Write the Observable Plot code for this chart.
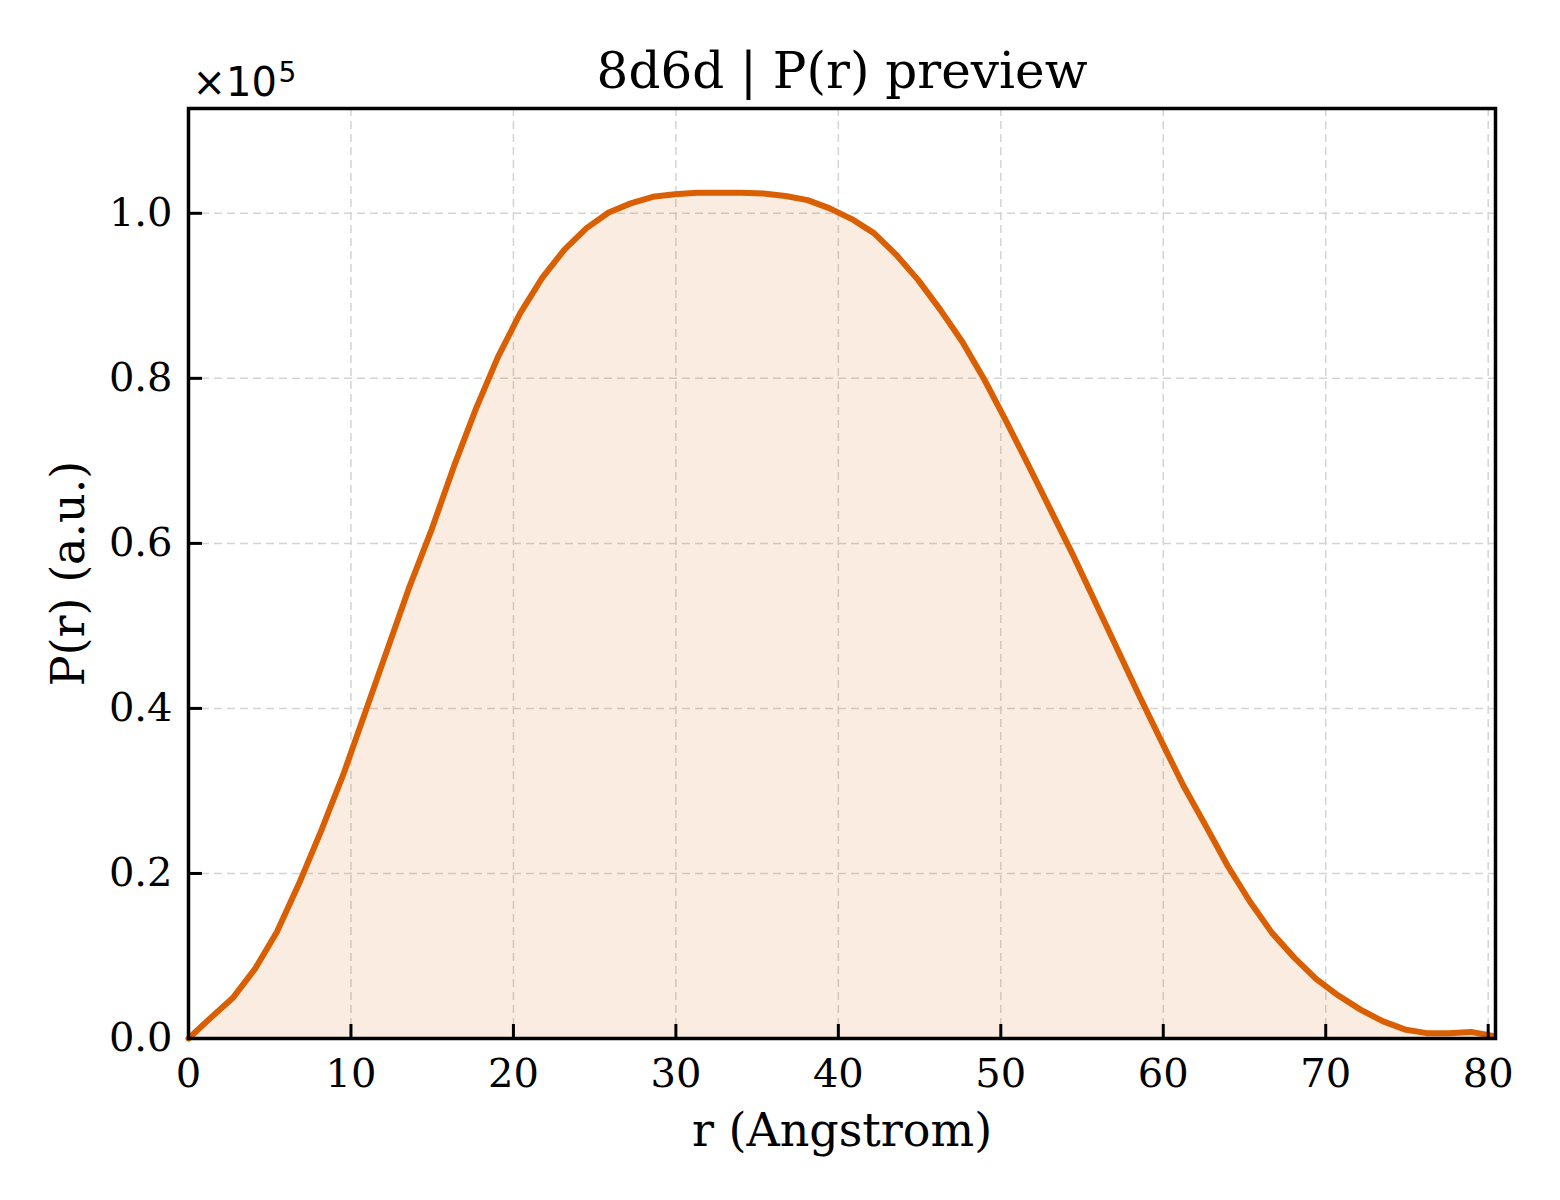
<!DOCTYPE html>
<html>
<head>
<meta charset="utf-8">
<script src="https://cdn.jsdelivr.net/npm/d3@7"></script>
<script src="https://cdn.jsdelivr.net/npm/@observablehq/plot@0.6"></script>
<style>
  html, body { margin: 0; padding: 0; background: #ffffff; }
  #chart svg { display: block; }
</style>
</head>
<body>
<div id="chart"></div>
<script>
// ---- Text ----
const titleText = "8d6d | P(r) preview";
const xLabel = "r (Angstrom)";
const yLabel = "P(r) (a.u.)";
const offsetBase = "×10";
const offsetExp = "5";

// ---- Data ----
const rValues = [
  0.00, 1.36, 2.72, 4.08, 5.44, 6.81, 8.17, 9.53, 10.89, 12.25,
  13.61, 14.97, 16.33, 17.69, 19.05, 20.42, 21.78, 23.14, 24.50, 25.86,
  27.22, 28.58, 29.94, 31.30, 32.67, 34.03, 35.39, 36.75, 38.11, 39.47,
  40.83, 42.19, 43.55, 44.92, 46.28, 47.64, 49.00, 50.36, 51.72, 53.08,
  54.44, 55.81, 57.17, 58.53, 59.89, 61.25, 62.61, 63.97, 65.33, 66.69,
  68.06, 69.42, 70.78, 72.14, 73.50, 74.86, 76.22, 77.58, 78.94, 80.30
];
const pValues = [
  0, 2500, 4900, 8400, 12900, 18800, 25200, 32000, 39600, 47200,
  54800, 61700, 69300, 76300, 82600, 87900, 92200, 95600, 98200, 100100,
  101200, 102000, 102300, 102500, 102500, 102500, 102400, 102100, 101600, 100600,
  99300, 97600, 95000, 91900, 88300, 84400, 79800, 74700, 69400, 64000,
  58600, 52900, 47200, 41500, 36000, 30600, 25800, 20900, 16600, 12800,
  9800, 7200, 5200, 3500, 2100, 1100, 650, 640, 800, 300
];
const xTicks = [0, 10, 20, 30, 40, 50, 60, 70, 80];
const yTicks = [0, 20000, 40000, 60000, 80000, 100000];

const data = rValues.map((r, i) => ({ r, p: pValues[i] }));

// ---- Layout ----
const W = 1560, H = 1200;
const mL = 188, mR = 65, mT = 108, mB = 162;
const frameW = W - mL - mR, frameH = H - mT - mB;
const lineColor = "#d95f02";
const gridColor = "#d4d4d4";

const chart = Plot.plot({
  width: W,
  height: H,
  marginLeft: mL,
  marginRight: mR,
  marginTop: mT,
  marginBottom: mB,
  style: { fontFamily: "'DejaVu Serif', serif", fontSize: "40px", background: "#ffffff", color: "#000000" },
  x: { domain: [0, 80.45] },
  y: { domain: [0, 112700] },
  marks: [
    Plot.ruleX(xTicks, { x: d => d, stroke: gridColor, strokeWidth: 1.5, strokeDasharray: "8,5" }),
    Plot.ruleY(yTicks, { y: d => d, stroke: gridColor, strokeWidth: 1.5, strokeDasharray: "8,5" }),
    Plot.areaY(data, { x: "r", y: "p", fill: lineColor, fillOpacity: 0.12 }),
    Plot.lineY(data, { x: "r", y: "p", stroke: lineColor, strokeWidth: 6, strokeLinejoin: "round" }),
    Plot.tickX(xTicks, { x: d => d, stroke: "#000", strokeWidth: 3, insetTop: frameH - 14 }),
    Plot.tickY(yTicks, { y: d => d, stroke: "#000", strokeWidth: 3, insetRight: frameW - 14 }),
    Plot.axisX({ ticks: xTicks, tickSize: 0, tickPadding: 20, label: null, tickFormat: d => String(d) }),
    Plot.axisY({ ticks: yTicks, tickSize: 0, tickPadding: 16, label: null, tickFormat: d => (d / 1e5).toFixed(1) }),
    Plot.frame({ stroke: "#000", strokeWidth: 3.5 }),
    Plot.text([titleText], { text: d => d, frameAnchor: "top", lineAnchor: "bottom", dy: -21, fontSize: 50, fill: "#000" }),
    Plot.text([offsetBase], { text: d => d, frameAnchor: "top-left", textAnchor: "start", lineAnchor: "bottom", dx: 4, dy: -13, fontSize: 40, fontFamily: "'DejaVu Sans', sans-serif", fill: "#000" }),
    Plot.text([offsetExp], { text: d => d, frameAnchor: "top-left", textAnchor: "start", lineAnchor: "bottom", dx: 90, dy: -27, fontSize: 28, fontFamily: "'DejaVu Sans', sans-serif", fill: "#000" }),
    Plot.text([xLabel], { text: d => d, frameAnchor: "bottom", lineAnchor: "bottom", dy: 107, fontSize: 46, fill: "#000" }),
    Plot.text([yLabel], { text: d => d, frameAnchor: "left", textAnchor: "middle", rotate: -90, lineAnchor: "bottom", dx: -105, fontSize: 46, fill: "#000" })
  ]
});

document.getElementById("chart").appendChild(chart);
</script>
</body>
</html>
